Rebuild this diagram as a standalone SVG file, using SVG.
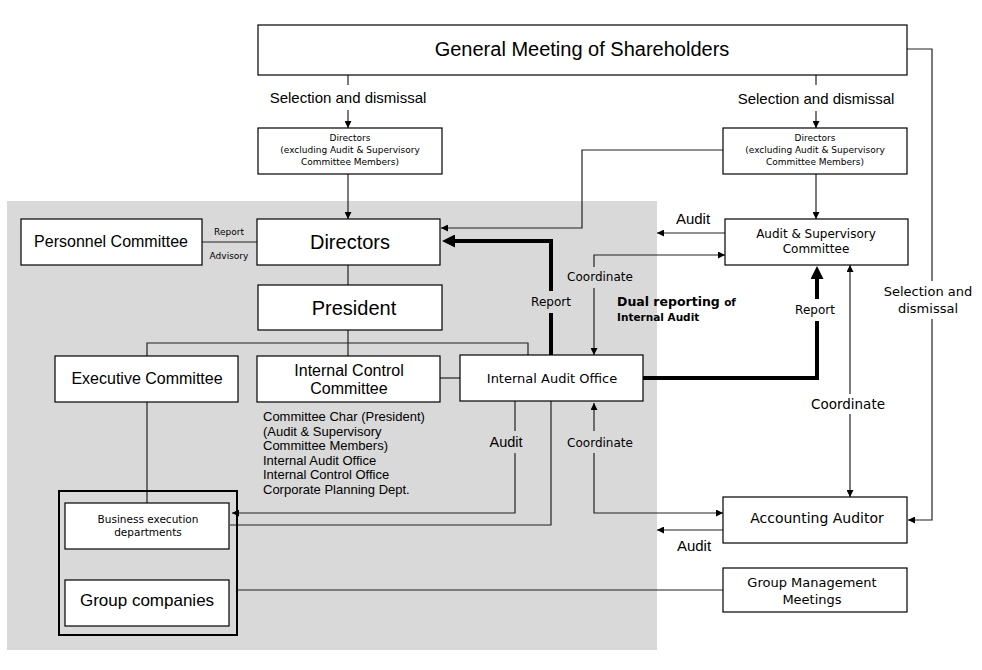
<svg xmlns="http://www.w3.org/2000/svg" width="982" height="670" viewBox="0 0 982 670">
<style>
.box{fill:#fff;stroke:#000;stroke-width:1.2}
.ln{fill:none;stroke:#222;stroke-width:1.2}
.tk{fill:none;stroke:#000;stroke-width:4}
.ls{font-family:"Liberation Sans",Arial,sans-serif;fill:#000}
.dv{font-family:"DejaVu Sans",Verdana,sans-serif;fill:#000}
.m{text-anchor:middle}
</style>
<defs>
<marker id="a" viewBox="0 0 10 10" refX="10" refY="5" markerWidth="8" markerHeight="7" markerUnits="userSpaceOnUse" orient="auto"><path d="M0,0 L10,5 L0,10 z" fill="#000"/></marker>
<marker id="b" viewBox="0 0 10 10" refX="0" refY="5" markerWidth="14" markerHeight="13" markerUnits="userSpaceOnUse" orient="auto"><path d="M0,0 L10,5 L0,10 z" fill="#000"/></marker>
</defs>
<rect x="0" y="0" width="982" height="670" fill="#fff"/>
<rect id="bg" x="7" y="201" width="650" height="449" fill="#d9d9d9"/>

<g id="connectors">
<path class="ln" d="M348,75 V85"/>
<path class="ln" d="M348,110 V128" marker-end="url(#a)"/>
<path class="ln" d="M816,75 V85"/>
<path class="ln" d="M816,111 V128" marker-end="url(#a)"/>
<path class="ln" d="M348,174 V219" marker-end="url(#a)"/>
<path class="ln" d="M723,150 H582 V228 H441" marker-end="url(#a)"/>
<path class="ln" d="M816,174 V219" marker-end="url(#a)"/>
<path class="ln" d="M202,242 H257"/>
<path class="ln" d="M348,265 V285"/>
<path class="ln" d="M348,330 V356"/>
<path class="ln" d="M147,356 V343 H528 V355"/>
<path class="ln" d="M440,378 H460"/>
<path class="tk" d="M551,355 V313"/>
<path class="tk" d="M551,291 V241 H455" marker-end="url(#b)"/>
<path class="tk" d="M643,378 H817 V321"/>
<path class="tk" d="M817,299 V279" marker-end="url(#b)"/>
<path class="ln" d="M725,233 H657" marker-end="url(#a)"/>
<path class="ln" d="M594,267 V255 H725" marker-end="url(#a)"/>
<path class="ln" d="M594,288 V355" marker-end="url(#a)"/>
<path class="ln" d="M850,394 V265" marker-end="url(#a)"/>
<path class="ln" d="M850,414 V497" marker-end="url(#a)"/>
<path class="ln" d="M907,49 H932 V281"/>
<path class="ln" d="M932,319 V520 H908" marker-end="url(#a)"/>
<path class="ln" d="M515,401 V431"/>
<path class="ln" d="M515,453 V513 H232" marker-end="url(#a)"/>
<path class="ln" d="M551,401 V525 H230"/>
<path class="ln" d="M594,431 V403" marker-end="url(#a)"/>
<path class="ln" d="M594,453 V513 H723" marker-end="url(#a)"/>
<path class="ln" d="M723,530 H657" marker-end="url(#a)"/>
<path class="ln" d="M237,590 H723"/>
<path class="ln" d="M147,402 V503"/>
</g>

<g id="labels">
<text class="ls m" x="348" y="103" font-size="15">Selection and dismissal</text>
<text class="ls m" x="816" y="104" font-size="15">Selection and dismissal</text>
<text class="dv m" x="229" y="235" font-size="9">Report</text>
<text class="dv m" x="229" y="259" font-size="9">Advisory</text>
<text class="ls m" x="693" y="224" font-size="15">Audit</text>
<text class="dv m" x="600" y="281" font-size="12">Coordinate</text>
<text class="dv m" x="551" y="306" font-size="12">Report</text>
<text class="dv" x="617" y="306" font-size="12.5" font-weight="bold">Dual reporting <tspan font-size="10.5">of</tspan></text>
<text class="dv" x="617" y="321" font-size="10.5" font-weight="bold">Internal Audit</text>
<text class="dv m" x="815" y="314" font-size="12">Report</text>
<text class="dv m" x="928" y="296" font-size="13">Selection and</text>
<text class="dv m" x="928" y="313" font-size="13">dismissal</text>
<text class="dv m" x="848" y="409" font-size="13.5">Coordinate</text>
<text class="ls m" x="506" y="447" font-size="14.5">Audit</text>
<text class="dv m" x="600" y="447" font-size="12">Coordinate</text>
<text class="ls m" x="694" y="551" font-size="15">Audit</text>
<text class="ls" font-size="13" x="263" y="421">Committee Char (President)<tspan x="263" dy="14.5">(Audit &amp; Supervisory</tspan><tspan x="263" dy="14.5">Committee Members)</tspan><tspan x="263" dy="14.5">Internal Audit Office</tspan><tspan x="263" dy="14.5">Internal Control Office</tspan><tspan x="263" dy="14.5">Corporate Planning Dept.</tspan></text>
</g>

<g id="gm"><rect class="box" x="258" y="25" width="649" height="50"/><text class="ls m" x="582" y="56" font-size="20">General Meeting of Shareholders</text></g>
<g id="dir-excl-left"><rect class="box" x="258" y="128" width="184" height="46"/><text class="dv m" font-size="9" x="350" y="141">Directors<tspan x="350" dy="12">(excluding Audit &amp; Supervisory</tspan><tspan x="350" dy="12">Committee Members)</tspan></text></g>
<g id="dir-excl-right"><rect class="box" x="723" y="128" width="184" height="46"/><text class="dv m" font-size="9" x="815" y="141">Directors<tspan x="815" dy="12">(excluding Audit &amp; Supervisory</tspan><tspan x="815" dy="12">Committee Members)</tspan></text></g>
<g id="personnel"><rect class="box" x="21" y="219" width="181" height="46"/><text class="ls m" x="111" y="247" font-size="16">Personnel Committee</text></g>
<g id="directors"><rect class="box" x="257" y="219" width="183" height="46"/><text class="ls m" x="350" y="249" font-size="20">Directors</text></g>
<g id="asc"><rect class="box" x="725" y="219" width="183" height="46"/><text class="dv m" font-size="12" x="816" y="238">Audit &amp; Supervisory<tspan x="816" dy="15">Committee</tspan></text></g>
<g id="president"><rect class="box" x="258" y="285" width="184" height="45"/><text class="ls m" x="354" y="315" font-size="20">President</text></g>
<g id="exec"><rect class="box" x="55" y="356" width="183" height="46"/><text class="ls m" x="147" y="384" font-size="16">Executive Committee</text></g>
<g id="icc"><rect class="box" x="257" y="356" width="183" height="46"/><text class="ls m" font-size="16" x="349" y="376">Internal Control<tspan x="349" dy="18">Committee</tspan></text></g>
<g id="iao"><rect class="box" x="460" y="355" width="183" height="46"/><text class="dv m" x="552" y="383" font-size="13">Internal Audit Office</text></g>
<g id="group-frame"><rect x="59" y="491" width="178" height="144" fill="none" stroke="#000" stroke-width="2"/></g>
<g id="business"><rect class="box" x="65" y="503" width="164" height="46"/><text class="dv m" font-size="10.5" x="148" y="523">Business execution<tspan x="148" dy="13">departments</tspan></text></g>
<g id="groupco"><rect class="box" x="65" y="580" width="164" height="46"/><text class="ls m" x="147" y="606" font-size="17">Group companies</text></g>
<g id="aa"><rect class="box" x="723" y="497" width="184" height="46"/><text class="dv m" x="817" y="523" font-size="14">Accounting Auditor</text></g>
<g id="gmm"><rect class="box" x="723" y="568" width="184" height="44"/><text class="dv m" font-size="13" x="812" y="587">Group Management<tspan x="812" dy="17">Meetings</tspan></text></g>
</svg>
